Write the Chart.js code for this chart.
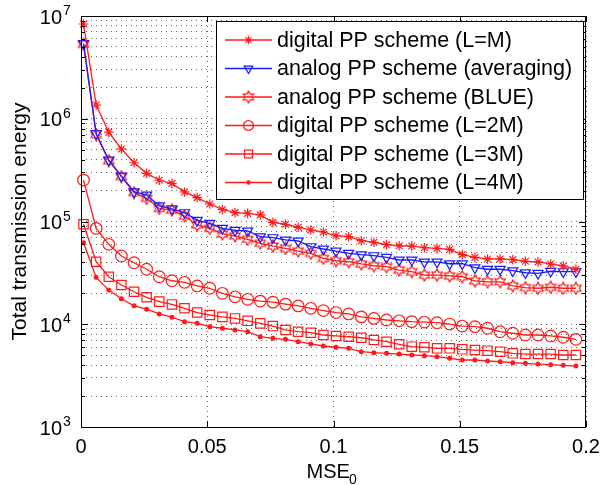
<!DOCTYPE html>
<html>
<head>
<meta charset="utf-8">
<script src="https://cdn.jsdelivr.net/npm/chart.js@4.4.0/dist/chart.umd.min.js"></script>
<style>
  html, body { margin: 0; padding: 0; background: #fff; }
</style>
</head>
<body>
<canvas id="myChart" width="601" height="485"></canvas>
<script>
const FONT = '"Liberation Sans", Arial, sans-serif'

// MSE_0 sample points (x axis)
const mse = [0.001, 0.006, 0.011, 0.016, 0.021, 0.026, 0.031, 0.036, 0.041, 0.046,
  0.051, 0.056, 0.061, 0.066, 0.071, 0.076, 0.081, 0.086, 0.091, 0.096,
  0.101, 0.106, 0.111, 0.116, 0.121, 0.126, 0.131, 0.136, 0.141, 0.146,
  0.151, 0.156, 0.161, 0.166, 0.171, 0.176, 0.181, 0.186, 0.191, 0.196]

// total transmission energy
const digitalM = [8.36e6, 1.36e6, 7.4e5, 5.08e5, 3.73e5, 2.94e5, 2.52e5, 2.35e5, 1.94e5, 1.71e5,
  1.48e5, 1.31e5, 1.22e5, 1.20e5, 1.16e5, 9.8e4, 9.4e4, 8.78e4, 8.27e4, 7.9e4,
  7.27e4, 7.11e4, 6.5e4, 6.28e4, 5.95e4, 5.81e4, 5.77e4, 5.56e4, 5.48e4, 5.36e4,
  4.75e4, 4.48e4, 4.32e4, 4.32e4, 4.25e4, 4.10e4, 4.04e4, 3.86e4, 3.69e4, 3.43e4]
const analogAvg = [5.4e6, 7.2e5, 3.97e5, 2.77e5, 1.95e5, 1.81e5, 1.42e5, 1.33e5, 1.22e5, 1.03e5,
  9.6e4, 8.58e4, 8.21e4, 8.08e4, 7.11e4, 6.96e4, 6.61e4, 6.46e4, 5.69e4, 5.40e4,
  5.16e4, 4.90e4, 4.75e4, 4.65e4, 4.48e4, 4.22e4, 4.22e4, 4.04e4, 4.04e4, 3.88e4,
  3.88e4, 3.55e4, 3.43e4, 3.43e4, 3.32e4, 3.17e4, 3.13e4, 3.28e4, 3.25e4, 3.25e4]
const analogBlue = [5.3e6, 7.0e5, 3.9e5, 2.73e5, 1.91e5, 1.68e5, 1.34e5, 1.29e5, 1.13e5, 9.25e4,
  8.58e4, 7.56e4, 7.23e4, 6.71e4, 6.14e4, 5.77e4, 5.48e4, 5.16e4, 4.90e4, 4.38e4,
  4.15e4, 4.06e4, 3.86e4, 3.71e4, 3.63e4, 3.37e4, 3.25e4, 3.01e4, 3.01e4, 2.95e4,
  2.90e4, 2.64e4, 2.59e4, 2.59e4, 2.36e4, 2.27e4, 2.24e4, 2.29e4, 2.24e4, 2.24e4]
const digital2M = [2.53e5, 8.58e4, 6.0e4, 4.62e4, 3.97e4, 3.43e4, 2.90e4, 2.65e4, 2.56e4, 2.36e4,
  2.24e4, 2.00e4, 1.85e4, 1.75e4, 1.68e4, 1.64e4, 1.57e4, 1.51e4, 1.43e4, 1.36e4,
  1.30e4, 1.26e4, 1.18e4, 1.14e4, 1.10e4, 1.08e4, 1.06e4, 1.05e4, 1.035e4, 1.005e4,
  9.6e3, 9.47e3, 9.14e3, 8.46e3, 8.17e3, 7.86e3, 7.86e3, 7.69e3, 7.47e3, 7.13e3]
const digital3M = [9.4e4, 4.06e4, 2.90e4, 2.41e4, 2.07e4, 1.83e4, 1.66e4, 1.56e4, 1.43e4, 1.30e4,
  1.23e4, 1.18e4, 1.14e4, 1.08e4, 1.02e4, 9.6e3, 8.8e3, 8.46e3, 8.27e3, 7.86e3,
  7.69e3, 7.56e3, 7.39e3, 7.03e3, 6.76e3, 6.38e3, 6.05e3, 5.97e3, 5.83e3, 5.83e3,
  5.70e3, 5.61e3, 5.53e3, 5.41e3, 5.21e3, 5.13e3, 5.13e3, 5.13e3, 5.02e3, 5.02e3]
const digital4M = [6.22e4, 2.86e4, 2.15e4, 1.77e4, 1.51e4, 1.40e4, 1.26e4, 1.17e4, 1.06e4, 1.02e4,
  9.47e3, 9.14e3, 8.8e3, 8.46e3, 7.56e3, 7.30e3, 7.13e3, 6.76e3, 6.43e3, 6.14e3,
  5.97e3, 5.83e3, 5.41e3, 5.29e3, 5.21e3, 5.13e3, 5.02e3, 4.94e3, 4.83e3, 4.66e3,
  4.49e3, 4.49e3, 4.39e3, 4.32e3, 4.22e3, 4.17e3, 4.10e3, 4.04e3, 3.98e3, 3.92e3]

const seriesLabels = ['digital PP scheme (L=M)', 'analog PP scheme (averaging)', 'analog PP scheme (BLUE)',
  'digital PP scheme (L=2M)', 'digital PP scheme (L=3M)', 'digital PP scheme (L=4M)']

// tick labels
const xTicks = [0, 0.05, 0.1, 0.15, 0.2]
const xTickLabels = ['0', '0.05', '0.1', '0.15', '0.2']
const yMajor = [1e3, 1e4, 1e5, 1e6, 1e7]
const yExponents = ['3', '4', '5', '6', '7']
const yMinorSteps = [2, 3, 4, 5, 6, 7, 8, 9]

const RED = '#ff1a1a'
const BLUE = '#1a1aff'

// matlab style hexagram marker
let hexagram = document.createElement('canvas')
hexagram.width = 14
hexagram.height = 14
{
  let c = hexagram.getContext('2d')
  c.strokeStyle = RED
  c.lineWidth = 1.2
  c.beginPath()
  for (let i = 0; i < 12; i++) {
    let ang = -Math.PI / 2 + i * Math.PI / 6
    let r = i % 2 ? 3.4 : 6
    let px = 7 + r * Math.cos(ang), py = 7 + r * Math.sin(ang)
    i ? c.lineTo(px, py) : c.moveTo(px, py)
  }
  c.closePath()
  c.stroke()
}

let toPoints = (arr) => arr.map((v, i) => ({ x: mse[i], y: v }))

let makeSet = (label, data, color, style, radius, fill, rot) => ({
  label: label,
  data: toPoints(data),
  borderColor: color,
  borderWidth: 1.3,
  pointStyle: style,
  pointRadius: radius,
  pointRotation: rot || 0,
  pointBorderColor: color,
  pointBorderWidth: 1.2,
  pointBackgroundColor: fill,
  tension: 0,
  clip: false
})

let datasets = [
  makeSet(seriesLabels[0], digitalM, RED, 'star', 4.8, 'transparent'),
  makeSet(seriesLabels[1], analogAvg, BLUE, 'triangle', 5.8, 'transparent', 180),
  makeSet(seriesLabels[2], analogBlue, RED, hexagram, 5, 'transparent'),
  makeSet(seriesLabels[3], digital2M, RED, 'circle', 5.8, 'transparent'),
  makeSet(seriesLabels[4], digital3M, RED, 'rect', 6.6, 'transparent'),
  makeSet(seriesLabels[5], digital4M, RED, 'circle', 1.9, RED)
]

// frame, inward ticks, labels and legend drawn matlab style
const matlabAxes = {
  id: 'matlabAxes',
  afterDatasetsDraw(chart) {
    const { ctx, chartArea: a } = chart
    const xs = chart.scales.x, ys = chart.scales.y
    ctx.save()
    ctx.strokeStyle = '#000'
    ctx.lineWidth = 1
    ctx.beginPath()
    xTicks.forEach(v => {
      let px = Math.round(xs.getPixelForValue(v)) + 0.5
      ctx.moveTo(px, a.bottom); ctx.lineTo(px, a.bottom - 6)
      ctx.moveTo(px, a.top); ctx.lineTo(px, a.top + 6)
    })
    yMajor.forEach((v, i) => {
      let py = Math.round(ys.getPixelForValue(v)) + 0.5
      ctx.moveTo(a.left, py); ctx.lineTo(a.left + 7, py)
      ctx.moveTo(a.right, py); ctx.lineTo(a.right - 7, py)
      if (i == yMajor.length - 1) return
      yMinorSteps.forEach(m => {
        let pm = Math.round(ys.getPixelForValue(v * m)) + 0.5
        ctx.moveTo(a.left, pm); ctx.lineTo(a.left + 4, pm)
        ctx.moveTo(a.right, pm); ctx.lineTo(a.right - 4, pm)
      })
    })
    ctx.stroke()
    ctx.strokeRect(a.left + 0.5, a.top + 0.5, a.right - a.left - 1, a.bottom - a.top)

    ctx.fillStyle = '#000'
    // x tick labels
    ctx.font = '20px ' + FONT
    ctx.textAlign = 'center'
    ctx.textBaseline = 'alphabetic'
    xTicks.forEach((v, i) => ctx.fillText(xTickLabels[i], xs.getPixelForValue(v), 452.5))
    // y tick labels 10^n
    yMajor.forEach((v, i) => {
      let py = ys.getPixelForValue(v)
      ctx.font = '20px ' + FONT
      ctx.textAlign = 'right'
      ctx.fillText('10', 62, py + 7.5)
      ctx.font = '14px ' + FONT
      ctx.textAlign = 'left'
      ctx.fillText(yExponents[i], 63, py - 1)
    })
    // x title with subscript
    ctx.font = '20px ' + FONT
    ctx.textAlign = 'left'
    ctx.fillText('MSE', 306.5, 477.5)
    ctx.font = '14px ' + FONT
    ctx.fillText('0', 349, 483.5)
    // y title
    ctx.save()
    ctx.translate(26, (a.top + a.bottom) / 2)
    ctx.rotate(-Math.PI / 2)
    ctx.font = '21px ' + FONT
    ctx.textAlign = 'center'
    ctx.fillText('Total transmission energy', 0, 0)
    ctx.restore()

    // legend box
    let lx = 216, ly = 21, lw = 367, lh = 178
    ctx.fillStyle = '#fff'
    ctx.fillRect(lx, ly, lw, lh)
    ctx.strokeStyle = '#000'
    ctx.strokeRect(lx + 0.5, ly + 0.5, lw, lh)
    chart.data.datasets.forEach((ds, i) => {
      let ry = 40 + i * 28.5
      ctx.strokeStyle = ds.borderColor
      ctx.lineWidth = ds.borderWidth
      ctx.beginPath()
      ctx.moveTo(225, ry); ctx.lineTo(272, ry)
      ctx.stroke()
      ctx.fillStyle = ds.pointBackgroundColor
      ctx.lineWidth = ds.pointBorderWidth
      Chart.helpers.drawPoint(ctx, { pointStyle: ds.pointStyle, rotation: ds.pointRotation, radius: ds.pointRadius * 0.85, borderWidth: ds.pointBorderWidth }, 248.5, ry)
      ctx.fillStyle = '#000'
      ctx.font = '21.5px ' + FONT
      ctx.textAlign = 'left'
      ctx.textBaseline = 'middle'
      ctx.fillText(ds.label, 277, ry + 1)
    })
    ctx.restore()
  }
}

const GRID = 'rgba(0,0,0,0.6)'

let myChart = new Chart(document.getElementById('myChart'), {
  type: 'line',
  data: { datasets: datasets },
  options: {
    responsive: false,
    animation: false,
    devicePixelRatio: 1,
    layout: { padding: { left: 0, top: 16, right: 15, bottom: 0 } },
    plugins: { legend: { display: false }, tooltip: { enabled: false } },
    scales: {
      x: {
        type: 'linear',
        min: 0,
        max: 0.2,
        afterBuildTicks: (scale) => { scale.ticks = xTicks.map(v => ({ value: v })) },
        afterFit: (scale) => { scale.height = 58 },
        ticks: { display: false },
        grid: { color: GRID, lineWidth: 1, drawTicks: false },
        border: { display: false, dash: [1, 4] }
      },
      y: {
        type: 'logarithmic',
        min: 1e3,
        max: 1e7,
        afterBuildTicks: (scale) => {
          let t = []
          yMajor.forEach((v, i) => {
            t.push({ value: v })
            if (i < yMajor.length - 1) yMinorSteps.forEach(m => t.push({ value: v * m }))
          })
          scale.ticks = t
        },
        afterFit: (scale) => { scale.width = 81 },
        ticks: { display: false },
        grid: { color: GRID, lineWidth: 1, drawTicks: false },
        border: { display: false, dash: [1, 4] }
      }
    }
  },
  plugins: [matlabAxes]
})
</script>
</body>
</html>
